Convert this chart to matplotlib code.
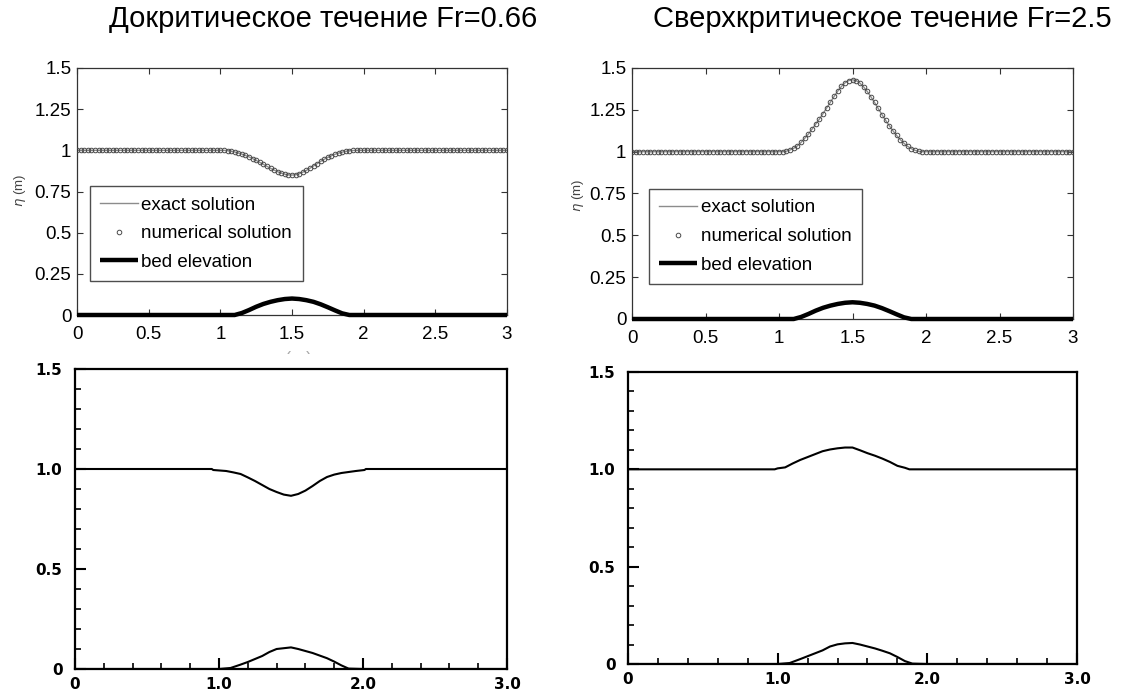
import numpy as np
import matplotlib
matplotlib.use("Agg")
import matplotlib.pyplot as plt
from matplotlib.ticker import FixedLocator, MultipleLocator
from matplotlib.transforms import Bbox, TransformedBbox

plt.rcParams['font.family'] = ['Liberation Sans', 'DejaVu Sans']

# ---- texts ----
title_sub = "Докритическое течение Fr=0.66"
title_super = "Сверхкритическое течение Fr=2.5"
legend_labels = ["exact solution", "numerical solution", "bed elevation"]
y_label_top = r"$\eta$ (m)"
x_label_top = "x (m)"

# ---- upper row: free surface on a 0.025 m grid ----
x_num = np.linspace(0.0, 3.0, 121)

eta_sub_num = [1.0] * 41 + [
    1.000, 0.998, 0.995, 0.990, 0.984, 0.977, 0.969, 0.960, 0.950, 0.939,
    0.927, 0.915, 0.903, 0.891, 0.880, 0.870, 0.862, 0.855, 0.851, 0.850,
    0.852, 0.858, 0.867, 0.878, 0.891, 0.905, 0.919, 0.933, 0.946, 0.957,
    0.967, 0.976, 0.983, 0.989, 0.994, 0.997, 0.999, 1.000, 1.000,
] + [1.0] * 41

eta_super_num = [1.0] * 41 + [
    1.000, 1.003, 1.010, 1.020, 1.035, 1.055, 1.080, 1.105, 1.135, 1.165,
    1.195, 1.228, 1.262, 1.296, 1.330, 1.362, 1.390, 1.412, 1.425, 1.430,
    1.425, 1.410, 1.388, 1.360, 1.328, 1.294, 1.258, 1.222, 1.188, 1.155,
    1.125, 1.097, 1.072, 1.050, 1.032, 1.018, 1.008, 1.002, 1.000,
] + [1.0] * 41

x_bed_top = [0.0, 1.10, 1.15, 1.20, 1.25, 1.30, 1.35, 1.40, 1.45, 1.50,
             1.55, 1.60, 1.65, 1.70, 1.75, 1.80, 1.85, 1.90, 3.0]
z_bed_top = [0.0, 0.0, 0.012, 0.030, 0.050, 0.067, 0.080, 0.090, 0.097, 0.100,
             0.097, 0.090, 0.080, 0.065, 0.047, 0.028, 0.010, 0.0, 0.0]

# ---- lower row: second model ----
x_sub2 = [0.0, 0.95, 0.96, 1.05, 1.10, 1.15, 1.20, 1.25, 1.30, 1.35, 1.40,
          1.45, 1.50, 1.55, 1.60, 1.65, 1.70, 1.75, 1.80, 1.85, 1.90, 1.95,
          2.01, 2.02, 3.0]
eta_sub2 = [1.0, 1.0, 0.995, 0.990, 0.983, 0.975, 0.958, 0.940, 0.920, 0.900,
            0.885, 0.872, 0.866, 0.875, 0.892, 0.915, 0.940, 0.960, 0.972,
            0.980, 0.985, 0.990, 0.995, 1.0, 1.0]

x_super2 = [0.0, 0.98, 1.00, 1.05, 1.10, 1.15, 1.20, 1.25, 1.30, 1.35, 1.40,
            1.45, 1.50, 1.55, 1.60, 1.65, 1.70, 1.75, 1.80, 1.85, 1.88, 3.0]
eta_super2 = [1.0, 1.0, 1.005, 1.010, 1.030, 1.048, 1.063, 1.078, 1.093,
              1.102, 1.108, 1.112, 1.112, 1.098, 1.083, 1.070, 1.055, 1.038,
              1.018, 1.008, 1.0, 1.0]

x_bed2_sub = [0.0, 1.00, 1.08, 1.15, 1.20, 1.25, 1.30, 1.35, 1.40, 1.45, 1.50,
              1.55, 1.60, 1.65, 1.70, 1.75, 1.80, 1.85, 1.90, 2.00, 3.0]
z_bed2_sub = [0.0, 0.0, 0.005, 0.022, 0.035, 0.050, 0.065, 0.085, 0.100, 0.104,
              0.108, 0.100, 0.090, 0.080, 0.067, 0.054, 0.037, 0.018, 0.002,
              0.0, 0.0]

x_bed2_super = [0.0, 1.00, 1.08, 1.15, 1.20, 1.25, 1.30, 1.35, 1.40, 1.45,
                1.50, 1.55, 1.60, 1.65, 1.70, 1.75, 1.80, 1.85, 1.90, 2.00, 3.0]
z_bed2_super = [0.0, 0.0, 0.005, 0.025, 0.040, 0.055, 0.070, 0.090, 0.101,
                0.106, 0.108, 0.100, 0.090, 0.080, 0.068, 0.055, 0.036, 0.015,
                0.002, 0.0, 0.0]

# ---- ticks ----
top_xticks = [0, 0.5, 1, 1.5, 2, 2.5, 3]
top_xticklabels = ["0", "0.5", "1", "1.5", "2", "2.5", "3"]
top_yticks = [0, 0.25, 0.5, 0.75, 1, 1.25, 1.5]
top_yticklabels = ["0", "0.25", "0.5", "0.75", "1", "1.25", "1.5"]
bot_xticks = [0, 1, 2, 3]
bot_xticklabels = ["0", "1.0", "2.0", "3.0"]
bot_yticks = [0, 0.5, 1.0, 1.5]
bot_yticklabels = ["0", "0.5", "1.0", "1.5"]

fig = plt.figure(figsize=(11.36, 6.96), dpi=100)
W, H = 1136.0, 696.0


def px_axes(l, t, r, b):
    return fig.add_axes([l / W, 1 - b / H, (r - l) / W, (b - t) / H])


def upper_panel(ax, eta, leg_anchor, ylab_pos):
    ax.plot(x_num, eta, color="#8c8c8c", lw=1.0, label=legend_labels[0], zorder=2)
    ax.plot(x_num, eta, ls="none", marker="o", ms=3.3, mfc="none",
            mec="#4a4a4a", mew=0.7, label=legend_labels[1], zorder=3)
    ax.plot(x_bed_top, z_bed_top, color="black", lw=3.2, label=legend_labels[2],
            clip_on=False, solid_capstyle="butt", zorder=4)
    ax.set_xlim(0, 3)
    ax.set_ylim(0, 1.5)
    ax.xaxis.set_major_locator(FixedLocator(top_xticks))
    ax.set_xticklabels(top_xticklabels)
    ax.yaxis.set_major_locator(FixedLocator(top_yticks))
    ax.set_yticklabels(top_yticklabels)
    ax.tick_params(direction="in", top=True, right=True, length=4, width=0.8,
                   color="#333333", labelsize=13.5)
    ax.tick_params(axis="x", pad=8)
    ax.tick_params(axis="y", pad=4)
    for s in ax.spines.values():
        s.set_color("#333333")
        s.set_linewidth(0.9)
    leg = ax.legend(loc="upper left", bbox_to_anchor=leg_anchor, borderaxespad=0,
                    fontsize=13.5, frameon=True, fancybox=False, numpoints=1,
                    handlelength=2.0, handletextpad=0.2, labelspacing=0.62,
                    borderpad=0.55)
    leg.get_frame().set_edgecolor("#222222")
    leg.get_frame().set_linewidth(1.0)
    ax.text(ylab_pos[0], ylab_pos[1], y_label_top, transform=ax.transAxes,
            rotation=90, ha="center", va="center", fontsize=9.5, color="#444444")


def lower_panel(ax, xs, eta, xb, zb):
    ax.plot(xs, eta, color="black", lw=1.5)
    ax.plot(xb, zb, color="black", lw=1.5)
    ax.set_xlim(0, 3)
    ax.set_ylim(0, 1.5)
    ax.xaxis.set_major_locator(FixedLocator(bot_xticks))
    ax.set_xticklabels(bot_xticklabels)
    ax.yaxis.set_major_locator(FixedLocator(bot_yticks))
    ax.set_yticklabels(bot_yticklabels)
    ax.xaxis.set_minor_locator(MultipleLocator(0.2))
    ax.yaxis.set_minor_locator(MultipleLocator(0.1))
    ax.tick_params(which="both", direction="in", top=False, right=False,
                   color="black")
    ax.tick_params(which="major", length=8, width=1.5)
    ax.tick_params(which="minor", length=4, width=1.2)
    ax.tick_params(axis="x", pad=6)
    ax.tick_params(axis="y", pad=9)
    for lab in ax.get_xticklabels() + ax.get_yticklabels():
        lab.set_fontfamily("DejaVu Sans")
        lab.set_fontweight("bold")
        lab.set_fontsize(11)
    for s in ax.spines.values():
        s.set_linewidth(1.6)
        s.set_color("black")


ax_tl = px_axes(77, 68, 507, 315)
ax_tr = px_axes(632, 68, 1073, 319)
ax_bl = px_axes(75, 369, 507, 669)
ax_br = px_axes(628, 372, 1077, 664)

upper_panel(ax_tl, eta_sub_num, (0.030, 0.522), (-0.133, 0.506))
upper_panel(ax_tr, eta_super_num, (0.0385, 0.518), (-0.122, 0.494))

# axis label of the upper-left panel, partly hidden behind the lower panel
xl = ax_tl.set_xlabel(x_label_top, fontsize=13, color="#aaaaaa", labelpad=6)
xl.set_clip_box(TransformedBbox(Bbox([[0, 1 - 354 / H], [1, 1]]), fig.transFigure))
xl.set_clip_on(True)

lower_panel(ax_bl, x_sub2, eta_sub2, x_bed2_sub, z_bed2_sub)
lower_panel(ax_br, x_super2, eta_super2, x_bed2_super, z_bed2_super)

fig.text(323 / W, 1 - 27 / H, title_sub, ha="center", va="baseline", fontsize=21)
fig.text(882 / W, 1 - 27 / H, title_super, ha="center", va="baseline", fontsize=21)

fig.savefig("out.png", dpi=100)
